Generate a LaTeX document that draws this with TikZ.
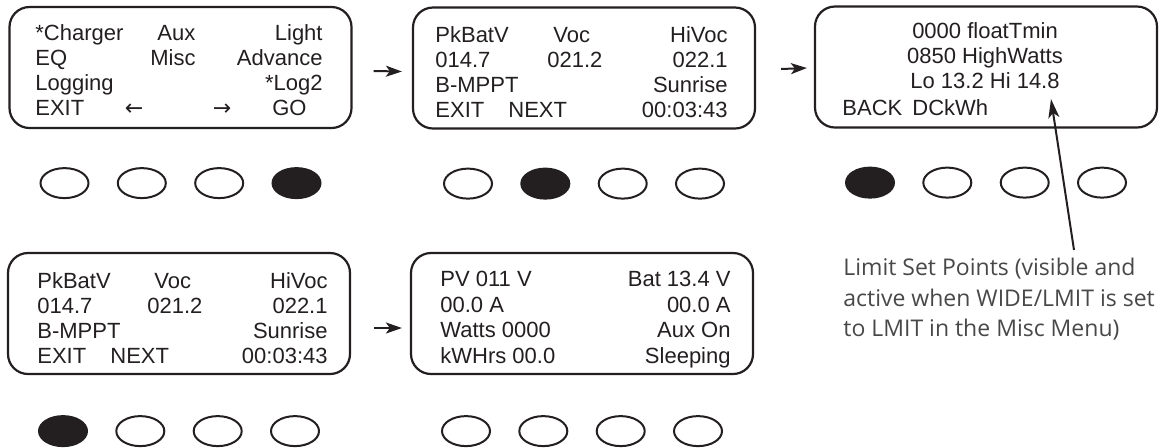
\documentclass[tikz,border=0pt]{standalone}
\usepackage{fontspec}
\setmainfont{Liberation Sans}
\newfontfamily\notefont{Open Sans}
\newfontfamily\symfont{DejaVu Sans}
\usetikzlibrary{calc,arrows.meta,shapes.geometric}
\definecolor{ink}{HTML}{231F20}
\definecolor{notegray}{HTML}{484848}

\begin{document}
\begin{tikzpicture}[x=0.5pt,y=-0.5pt, color=ink,
    screen/.style={rectangle, draw, rounded corners=10pt, line width=1.1pt, minimum width=171pt, minimum height=60.5pt},
    lcd/.style={font=\fontsize{11}{13}\selectfont, inner sep=0pt},
    button/.style={ellipse, draw, line width=1pt, minimum width=24pt, minimum height=15pt, inner sep=0pt},
    flow/.style={-{Stealth[length=8pt,width=5.5pt,inset=2pt]}, line width=1pt},
    pointer/.style={-{Stealth[length=9.5pt,width=5.5pt,inset=2.5pt]}, line width=1pt}
]
\useasboundingbox (0,0) rectangle (1160,447);

% screens
\node[screen] (scr1) at (180.5,67.5) {};
\node[screen] (scr2) at (584,68) {};
\node[screen] (scr3) at (986,67) {};
\node[screen] (scr4) at (179,313.5) {};
\node[screen] (scr5) at (582,313.5) {};

% main menu
\node[lcd, anchor=base west] (m1a) at (35,40) {*Charger};
\node[lcd, anchor=base west] (m1b) at (157,40) {Aux};
\node[lcd, anchor=base east] (m1c) at (323,40) {Light};
\node[lcd, anchor=base west] (m2a) at (35,65) {EQ};
\node[lcd, anchor=base west] (m2b) at (150,65) {Misc};
\node[lcd, anchor=base east] (m2c) at (323,65) {Advance};
\node[lcd, anchor=base west] (m3a) at (35,90) {Logging};
\node[lcd, anchor=base east] (m3c) at (323,90) {*Log2};
\node[lcd, anchor=base west] (m4a) at (35,115) {EXIT};
\node[lcd, anchor=base] (m4b) at (134,115) {\symfont ←};
\node[lcd, anchor=base] (m4c) at (222,115) {\symfont →};
\node[lcd, anchor=base east] (m4d) at (307,115) {GO};

% logging page
\foreach \s/\y in {p/0, q/246} {
  \ifnum\y=0 \def\xo{435}\def\xr{728}\def\xv{553}\def\xw{547}\def\xn{508}\else
             \def\xo{37}\def\xr{328}\def\xv{154}\def\xw{147}\def\xn{110}\fi
  \node[lcd, anchor=base west] (\s1a) at (\xo,42+\y) {PkBatV};
  \node[lcd, anchor=base west] (\s1b) at (\xv,42+\y) {Voc};
  \node[lcd, anchor=base east] (\s1c) at (\xr,42+\y) {HiVoc};
  \node[lcd, anchor=base west] (\s2a) at (\xo,67+\y) {014.7};
  \node[lcd, anchor=base west] (\s2b) at (\xw,67+\y) {021.2};
  \node[lcd, anchor=base east] (\s2c) at (\xr,67+\y) {022.1};
  \node[lcd, anchor=base west] (\s3a) at (\xo,92+\y) {B-MPPT};
  \node[lcd, anchor=base east] (\s3c) at (\xr,92+\y) {Sunrise};
  \node[lcd, anchor=base west] (\s4a) at (\xo,117+\y) {EXIT};
  \node[lcd, anchor=base west] (\s4b) at (\xn,117+\y) {NEXT};
  \node[lcd, anchor=base east] (\s4c) at (\xr,117+\y) {00:03:43};
}

% limit page
\node[lcd, anchor=base] (l1) at (985,38) {0000 floatTmin};
\node[lcd, anchor=base] (l2) at (985,63) {0850 HighWatts};
\node[lcd, anchor=base] (l3) at (985,88) {Lo 13.2 Hi 14.8};
\node[lcd, anchor=base west] (l4a) at (842,115) {BACK};
\node[lcd, anchor=base west] (l4b) at (912,115) {DCkWh};

% status page
\node[lcd, anchor=base west] (v1a) at (440,286) {PV 011 V};
\node[lcd, anchor=base east] (v1c) at (731,286) {Bat 13.4 V};
\node[lcd, anchor=base west] (v2a) at (440,312) {00.0 A};
\node[lcd, anchor=base east] (v2c) at (731,312) {00.0 A};
\node[lcd, anchor=base west] (v3a) at (440,337) {Watts 0000};
\node[lcd, anchor=base east] (v3c) at (731,337) {Aux On};
\node[lcd, anchor=base west] (v4a) at (440,363) {kWHrs 00.0};
\node[lcd, anchor=base east] (v4c) at (731,363) {Sleeping};

% buttons under each screen
\foreach \s/\f/\dy in {scr1/4/54, scr2/2/54, scr3/1/54, scr4/1/56, scr5/0/56} {
  \foreach \dx [count=\i] in {-116,-38.7,38.7,116} {
    \ifnum\i=\f \def\bfill{ink}\else\def\bfill{white}\fi
    \node[button, fill=\bfill] (\s-b\i) at ($(\s.south)+(\dx,\dy)$) {};
  }
}

% flow between screens
\draw[flow] ([xshift=10.5pt,yshift=-1.75pt]scr1.east) -- ([xshift=-5pt,yshift=-1.75pt]scr2.west);
\draw[flow] ([xshift=12.5pt,yshift=-0.5pt]scr2.east) -- ([xshift=-3.5pt,yshift=-0.5pt]scr3.west);
\draw[flow] ([xshift=11.5pt,yshift=-7.25pt]scr4.east) -- ([xshift=-4pt,yshift=-7.25pt]scr5.west);

% note on the limit set points
\node[anchor=north west, align=left, inner sep=0pt, text=notegray,
      font=\notefont\fontsize{11.5}{15.25}\selectfont] (note) at (843,258)
  {Limit Set Points (visible and\\active when WIDE/LMIT is set\\to LMIT in the Misc Menu)};
\coordinate (tip) at (1051,99);
\draw[pointer] ([xshift=115.5pt,yshift=4pt]note.north west) -- (tip);
\end{tikzpicture}
\end{document}
